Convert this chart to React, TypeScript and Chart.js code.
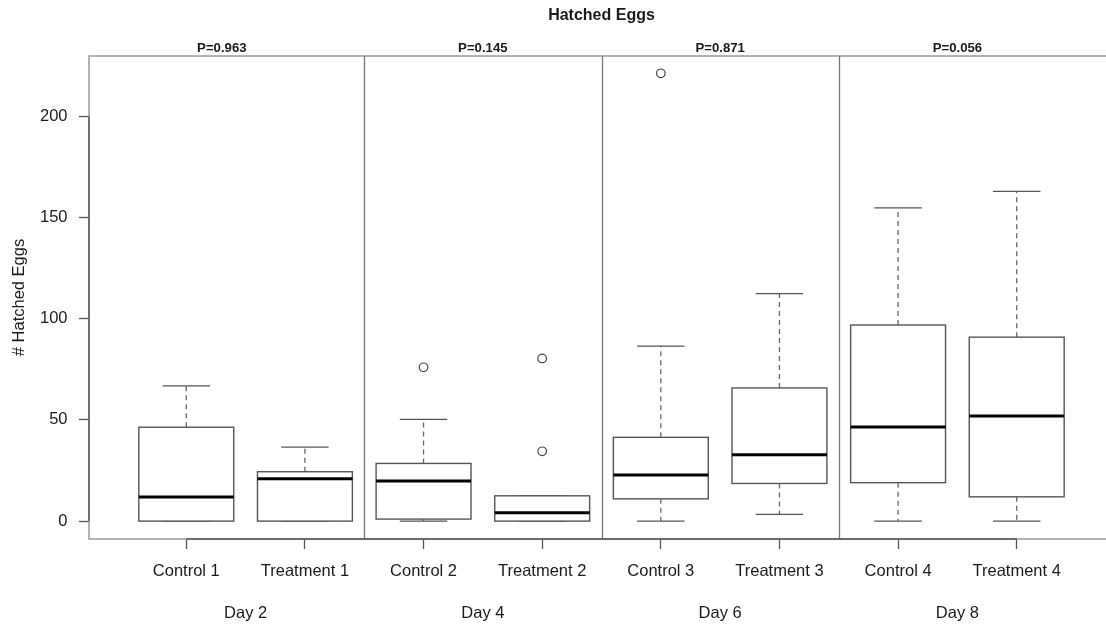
import React, { useEffect, useRef } from "react";
import { Chart, registerables } from "chart.js";

Chart.register(...registerables);

// ---- data ----
const categories = [
  "Control 1", "Treatment 1",
  "Control 2", "Treatment 2",
  "Control 3", "Treatment 3",
  "Control 4", "Treatment 4",
];
const dayLabels = ["Day 2", "Day 4", "Day 6", "Day 8"];
const pValueLabels = ["P=0.963", "P=0.145", "P=0.871", "P=0.056"];
const pValueX = [1.3, 3.5, 5.5, 7.5];

const whiskerLow = [0, 0, 0, 0, 0, 3.3, 0, 0];
const q1 = [0, 0, 1, 0, 11, 18.6, 19, 12];
const medians = [11.9, 20.9, 19.8, 4.1, 22.8, 32.8, 46.5, 52];
const q3 = [46.4, 24.4, 28.5, 12.5, 41.4, 65.8, 96.9, 90.9];
const whiskerHigh = [66.8, 36.6, 50.3, 12.5, 86.5, 112.4, 154.8, 162.9];

const outlierGroup = [3, 4, 4, 5];
const outlierValue = [76, 80.4, 34.5, 221.3];

const yTicks = [0, 50, 100, 150, 200];
const yMin = -8.84;
const yMax = 229.84;
const xMin = 0.18;
const xMax = 8.82;

const FONT = "'Liberation Sans', Arial, Helvetica, sans-serif";
const TEXT = "#1a1a1a";

const rPlotPlugin = {
  id: "rPlot",
  beforeDatasetsDraw(chart: any) {
    const { ctx, chartArea: a, scales } = chart;
    const x = scales.x;
    const y = scales.y;
    ctx.save();
    // frame
    ctx.strokeStyle = "#9a9a9a";
    ctx.lineWidth = 1.5;
    ctx.strokeRect(a.left, a.top, a.right - a.left, a.bottom - a.top);

    // panel separators
    ctx.strokeStyle = "#777";
    ctx.lineWidth = 1.3;
    for (let d = 1; d < dayLabels.length; d++) {
      const px = Math.round(x.getPixelForValue(d * 2 + 0.5)) + 0.5;
      ctx.beginPath();
      ctx.moveTo(px, a.top);
      ctx.lineTo(px, a.bottom);
      ctx.stroke();
    }

    // axis lines (R style, first to last tick)
    ctx.strokeStyle = "#555";
    ctx.lineWidth = 1.4;
    ctx.beginPath();
    ctx.moveTo(a.left, y.getPixelForValue(yTicks[0]));
    ctx.lineTo(a.left, y.getPixelForValue(yTicks[yTicks.length - 1]));
    ctx.moveTo(x.getPixelForValue(1), a.bottom);
    ctx.lineTo(x.getPixelForValue(categories.length), a.bottom);
    ctx.stroke();

    // boxes
    for (let i = 0; i < categories.length; i++) {
      const pos = i + 1;
      const cx = x.getPixelForValue(pos);
      const l = x.getPixelForValue(pos - 0.4);
      const r = x.getPixelForValue(pos + 0.4);
      const sl = x.getPixelForValue(pos - 0.2);
      const sr = x.getPixelForValue(pos + 0.2);
      const yLo = y.getPixelForValue(whiskerLow[i]);
      const yQ1 = y.getPixelForValue(q1[i]);
      const yMed = y.getPixelForValue(medians[i]);
      const yQ3 = y.getPixelForValue(q3[i]);
      const yHi = y.getPixelForValue(whiskerHigh[i]);

      // whiskers dashed
      ctx.strokeStyle = "#666";
      ctx.lineWidth = 1.3;
      ctx.setLineDash([5, 4]);
      ctx.beginPath();
      ctx.moveTo(cx, yQ3);
      ctx.lineTo(cx, yHi);
      ctx.moveTo(cx, yQ1);
      ctx.lineTo(cx, yLo);
      ctx.stroke();
      ctx.setLineDash([]);

      // staples
      ctx.strokeStyle = "#555";
      ctx.beginPath();
      ctx.moveTo(sl, yHi);
      ctx.lineTo(sr, yHi);
      ctx.moveTo(sl, yLo);
      ctx.lineTo(sr, yLo);
      ctx.stroke();

      // box
      ctx.fillStyle = "#ffffff";
      ctx.fillRect(l, yQ3, r - l, yQ1 - yQ3);
      ctx.strokeStyle = "#555";
      ctx.lineWidth = 1.4;
      ctx.strokeRect(l, yQ3, r - l, yQ1 - yQ3);

      // median
      ctx.strokeStyle = "#000";
      ctx.lineWidth = 3;
      ctx.beginPath();
      ctx.moveTo(l, yMed);
      ctx.lineTo(r, yMed);
      ctx.stroke();
    }
    ctx.restore();
  },
  afterDraw(chart: any) {
    const { ctx, chartArea: a, scales } = chart;
    const x = scales.x;
    ctx.save();
    ctx.fillStyle = TEXT;
    ctx.textAlign = "center";
    ctx.textBaseline = "alphabetic";

    // title
    ctx.font = `bold 16px ${FONT}`;
    ctx.fillText("Hatched Eggs", (a.left + a.right) / 2, 20);

    // p-values
    ctx.font = `bold 13.2px ${FONT}`;
    pValueLabels.forEach((t, i) => {
      ctx.fillText(t, x.getPixelForValue(pValueX[i]), 52.3);
    });

    // day labels
    ctx.font = `16.5px ${FONT}`;
    dayLabels.forEach((t, d) => {
      ctx.fillText(t, x.getPixelForValue(d * 2 + 1.5), 617.5);
    });

    // y title
    ctx.translate(23.5, (a.top + a.bottom) / 2);
    ctx.rotate(-Math.PI / 2);
    ctx.fillText("# Hatched Eggs", 0, 0);
    ctx.restore();
  },
};

export default function App() {
  const ref = useRef<HTMLCanvasElement | null>(null);

  useEffect(() => {
    if (!ref.current) return;
    Chart.defaults.font.family = FONT;
    const chart = new Chart(ref.current, {
      type: "scatter",
      data: {
        datasets: [
          {
            label: "outliers",
            data: outlierGroup.map((g, i) => ({ x: g, y: outlierValue[i] })),
            pointRadius: 4.3,
            pointHoverRadius: 4.3,
            pointBorderWidth: 1.2,
            pointBorderColor: "#444",
            pointBackgroundColor: "rgba(255,255,255,0)",
            pointStyle: "circle",
            showLine: false,
          },
        ],
      },
      options: {
        responsive: false,
        animation: false,
        events: [],
        layout: { padding: { top: 56, right: 16, left: 0, bottom: 0 } },
        plugins: {
          legend: { display: false },
          tooltip: { enabled: false },
          title: { display: false },
        },
        scales: {
          x: {
            type: "linear",
            min: xMin,
            max: xMax,
            afterBuildTicks: (s: any) => {
              s.ticks = categories.map((_, i) => ({ value: i + 1 }));
            },
            afterFit: (s: any) => {
              s.height = 87;
            },
            ticks: {
              autoSkip: false,
              maxRotation: 0,
              padding: 13,
              color: TEXT,
              font: { size: 16.5, family: FONT },
              callback: (v: any) => categories[Math.round(Number(v)) - 1] ?? "",
            },
            grid: {
              drawOnChartArea: false,
              drawTicks: true,
              tickLength: 10,
              tickWidth: 1.3,
              tickColor: "#555",
              color: "#555",
            },
            border: { display: false },
          },
          y: {
            type: "linear",
            min: yMin,
            max: yMax,
            afterBuildTicks: (s: any) => {
              s.ticks = yTicks.map((v) => ({ value: v }));
            },
            afterFit: (s: any) => {
              s.width = 89;
            },
            ticks: {
              padding: 11.5,
              color: TEXT,
              font: { size: 16.5, family: FONT },
              callback: (v: any) => String(v),
            },
            grid: {
              drawOnChartArea: false,
              drawTicks: true,
              tickLength: 10,
              tickWidth: 1.3,
              tickColor: "#555",
              color: "#555",
            },
            border: { display: false },
          },
        },
      },
      plugins: [rPlotPlugin],
    });
    return () => chart.destroy();
  }, []);

  return (
    <div
      style={{
        position: "fixed",
        left: 0,
        top: 0,
        width: 1106,
        height: 626,
        overflow: "hidden",
        background: "#fff",
      }}
    >
      <canvas
        ref={ref}
        width={1130}
        height={626}
        style={{ display: "block", width: 1130, height: 626 }}
      />
    </div>
  );
}
